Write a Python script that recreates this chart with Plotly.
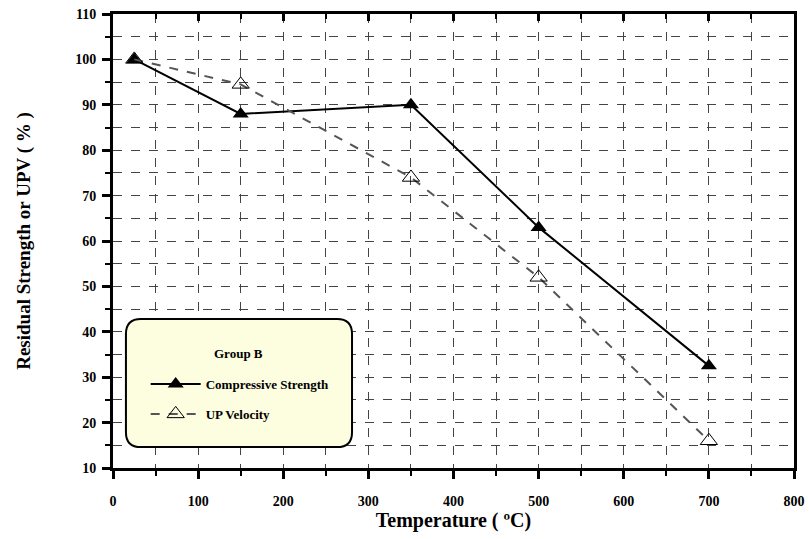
import plotly.graph_objects as go

temperature = [25, 150, 350, 500, 700]
compressive_strength = [100, 88, 90, 63, 32.5]
up_velocity = [100, 94.5, 74, 52, 16]

x_range = [0, 800]
y_range = [10, 110]

FONT = "Liberation Serif, Times New Roman, serif"

fig = go.Figure()
fig.add_trace(go.Scatter(
    x=temperature, y=compressive_strength, name="Compressive Strength",
    mode="lines+markers", legendgroup="a",
    line=dict(color="black", width=2),
    marker=dict(symbol="triangle-up", size=14, color="black"),
))
fig.add_trace(go.Scatter(
    x=temperature, y=up_velocity, name="UP Velocity",
    mode="lines+markers", legendgroup="b",
    line=dict(color="#555555", width=2, dash="dash"),
    marker=dict(symbol="triangle-up-open", size=15, color="black", line=dict(width=1)),
))
# invisible trace to drive the top tick axis
fig.add_trace(go.Scatter(x=x_range, y=y_range, xaxis="x2", mode="markers",
                         marker=dict(opacity=0), showlegend=False, hoverinfo="skip"))

grid_color = "#444444"
fig.update_layout(
    width=809, height=539,
    margin=dict(l=113, r=15, t=14, b=71, autoexpand=False),
    paper_bgcolor="white", plot_bgcolor="white",
    font=dict(family=FONT, color="black", size=13, weight="bold"),
    showlegend=True,
    xaxis=dict(
        range=x_range, dtick=100, tick0=0, automargin=False,
        ticks="outside", ticklen=8, tickwidth=3, tickcolor="black",
        showline=True, linewidth=3, linecolor="black", mirror=True,
        showgrid=True, gridcolor=grid_color, gridwidth=1, griddash="dash",
        zeroline=False, ticklabelstandoff=10, ticklabeloverflow="allow",
        tickfont=dict(family=FONT, size=14, weight="bold"),
        minor=dict(dtick=50, ticks="outside", ticklen=5, tickwidth=2, tickcolor="black",
                   showgrid=True, gridcolor=grid_color, gridwidth=1, griddash="dash"),
        title=dict(text="Temperature ( ºC)", font=dict(family=FONT, size=20, weight="bold"), standoff=2),
    ),
    xaxis2=dict(
        range=x_range, overlaying="x", side="top", dtick=100, tick0=0, automargin=False,
        ticks="inside", ticklen=7, tickwidth=3, tickcolor="black",
        showticklabels=False, showgrid=False, zeroline=False, showline=False,
        minor=dict(dtick=50, ticks="inside", ticklen=5, tickwidth=2, tickcolor="black", showgrid=False),
    ),
    yaxis=dict(
        range=y_range, dtick=10, tick0=10, automargin=False,
        ticks="outside", ticklen=8, tickwidth=3, tickcolor="black",
        showline=True, linewidth=3, linecolor="black", mirror=True,
        showgrid=True, gridcolor=grid_color, gridwidth=1, griddash="dash",
        zeroline=False, ticklabelstandoff=3, ticklabeloverflow="allow",
        tickfont=dict(family=FONT, size=14, weight="bold"),
        minor=dict(dtick=5, ticks="outside", ticklen=5, tickwidth=2, tickcolor="black",
                   showgrid=True, gridcolor=grid_color, gridwidth=1, griddash="dash"),
        title=dict(text="Residual Strength or UPV ( % )", font=dict(family=FONT, size=19, weight="bold"), standoff=40),
    ),
    legend=dict(
        x=0.048, y=0.218, xanchor="left", yanchor="top",
        bgcolor="rgba(0,0,0,0)", borderwidth=0,
        font=dict(family=FONT, size=13, weight="bold"),
        itemwidth=50, tracegroupgap=10,
    ),
)

# rounded legend frame
x0, x1 = 0.019, 0.351
y0, y1 = 0.046, 0.328
rx, ry = 0.022, 0.033
path = (f"M {x0+rx},{y0} L {x1-rx},{y0} Q {x1},{y0} {x1},{y0+ry} "
        f"L {x1},{y1-ry} Q {x1},{y1} {x1-rx},{y1} L {x0+rx},{y1} "
        f"Q {x0},{y1} {x0},{y1-ry} L {x0},{y0+ry} Q {x0},{y0} {x0+rx},{y0} Z")
fig.add_shape(type="path", path=path, xref="paper", yref="paper",
              fillcolor="#fdfde0", line=dict(color="black", width=2), layer="above")
fig.add_annotation(text="Group B", xref="paper", yref="paper", x=0.185, y=0.253,
                   xanchor="center", yanchor="middle",
                   showarrow=False, font=dict(family=FONT, size=13, weight="bold"))
fig.write_html("out.html", config={"displayModeBar": False},
               post_script="document.body.style.margin='0';document.body.style.overflow='hidden';")
